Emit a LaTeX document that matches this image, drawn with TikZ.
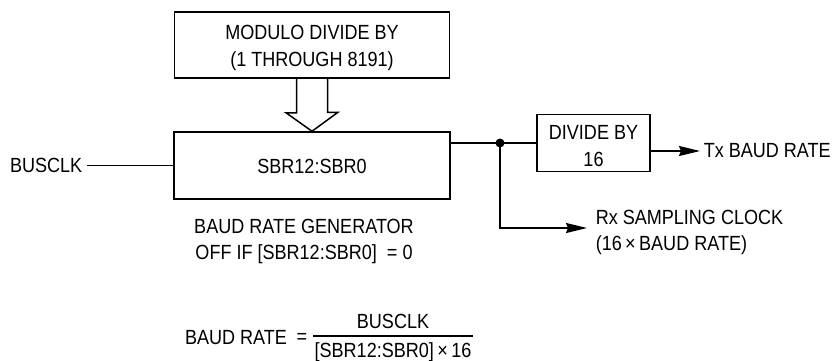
\documentclass[tikz,border=0pt]{standalone}
\usepackage{fontspec}
\setmainfont[FakeStretch=0.88]{Liberation Sans}
\usetikzlibrary{arrows.meta,calc}
\begin{document}
\begin{tikzpicture}[x=1pt,y=-1pt,line width=1.5pt,
  box/.style={draw,line width=1.5pt,inner sep=0pt},
  lbl/.style={inner sep=0pt,align=center,font=\fontsize{20.5}{26}\selectfont},
  lbl2/.style={lbl,font=\fontsize{20.5}{27}\selectfont},
  arr/.style={-{Stealth[length=21pt,width=10pt,inset=2pt]}}]
\useasboundingbox (0,0) rectangle (837,360);
% boxes
\node[box,minimum width=275pt,minimum height=66pt] (top) at (312,45) {};
\node[lbl2] (toptxt) at (312,47.5) {MODULO DIVIDE BY\\(1 THROUGH 8191)};
\node[box,minimum width=276pt,minimum height=67pt] (main) at (312,165.5) {};
\node[lbl] (maintxt) at (312,166) {SBR12:SBR0};
\node[box,minimum width=113pt,minimum height=57pt] (div) at (593.5,143) {};
\node[lbl2] (divtxt) at (593.5,146) {DIVIDE BY\\16};
% hollow arrow
\draw[line join=miter] ([xshift=-15.5pt]top.south) -- ++(0,34) -- ++(-10.5,0) -- (main.north) -- ++(26,-19) -- ++(-10.5,0) -- ([xshift=15.5pt]top.south);
% busclk
\node[lbl,anchor=east] (bus) at (83,165.5) {BUSCLK};
\draw ([xshift=4pt]bus.east) -- (main.west);
% output
\coordinate (dot) at (500,143);
\draw (main.east |- dot) -- (dot) -- (div.west |- dot);
\fill (dot) circle (4.5pt);
\node[lbl,anchor=west] (tx) at (703,151) {Tx BAUD RATE};
\draw[arr] ([yshift=-8pt]div.east) -- ([xshift=-3pt]tx.west);
\node[lbl,anchor=west,align=left] (rx) at (595,232) {Rx SAMPLING CLOCK\\(16\,×\,BAUD RATE)};
\draw[arr] (dot) |- ([xshift=-8pt,yshift=4pt]rx.west);
% generator label
\node[lbl] (gen) at (304,241) {BAUD RATE GENERATOR\\OFF IF [SBR12:SBR0]\ \ = 0};
% formula
\node[lbl] (br) at (236,338) {BAUD RATE};
\node[lbl] (eq) at (302,338) {=};
\coordinate (barl) at (313,336);
\coordinate (barr) at (473,336);
\draw (barl) -- (barr);
\node[lbl] (num) at (393,321) {BUSCLK};
\node[lbl] (den) at (393,352) {[SBR12:SBR0]\,×\,16};
\end{tikzpicture}
\end{document}
